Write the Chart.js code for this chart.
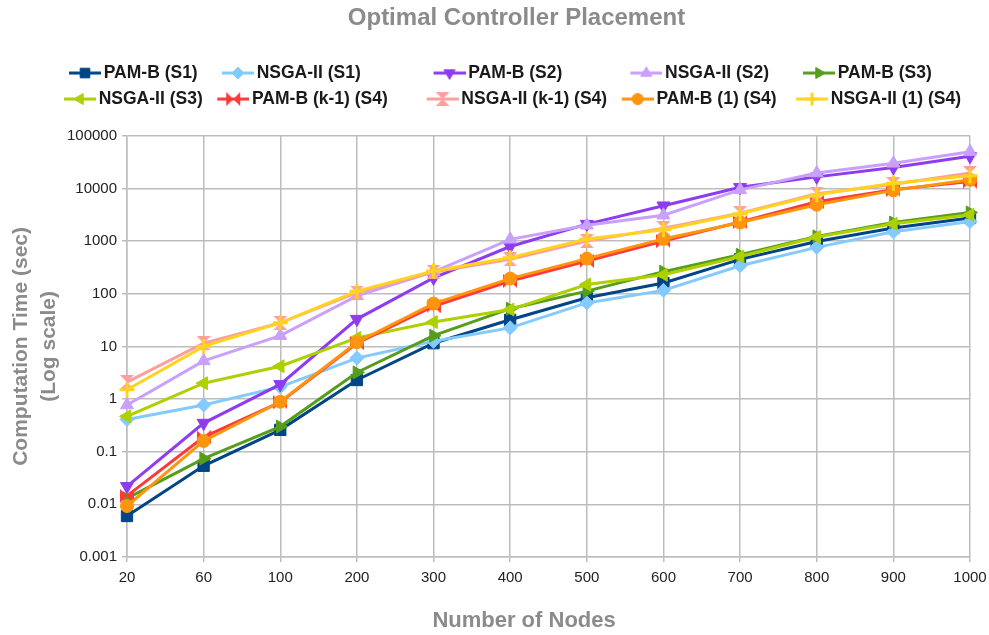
<!DOCTYPE html>
<html>
<head>
<meta charset="utf-8">
<title>Optimal Controller Placement</title>
<script src="https://cdn.jsdelivr.net/npm/chart.js@4.4.1/dist/chart.umd.min.js"></script>
<style>
  html, body { margin: 0; padding: 0; background: #ffffff; }
  canvas { display: block; }
</style>
</head>
<body>
<canvas id="chart" width="989" height="635"></canvas>
<script>
// Number of nodes (x categories)
const nodes = ['20', '60', '100', '200', '300', '400', '500', '600', '700', '800', '900', '1000'];

// Decade ticks on the log axis
const yTicks = [0.001, 0.01, 0.1, 1, 10, 100, 1000, 10000, 100000];

// Computation time in seconds
const pamS1      = [0.006, 0.054, 0.26, 2.3, 11.5, 32, 84, 160, 450, 980, 1770, 2750];
const nsgaS1     = [0.41, 0.77, 1.7, 6.0, 12.5, 22.5, 67, 116, 340, 760, 1500, 2350];
const pamS2      = [0.022, 0.35, 1.9, 33, 200, 790, 2100, 4700, 10500, 16600, 25000, 40700];
const nsgaS2     = [0.77, 5.3, 16, 91, 260, 1080, 2000, 3100, 9400, 19600, 30000, 50000];
const pamS3      = [0.013, 0.074, 0.30, 3.2, 16, 52, 112, 263, 550, 1230, 2250, 3500];
const nsgaS3     = [0.47, 2.0, 4.2, 14.5, 29, 50, 150, 230, 510, 1200, 2130, 3150];
const pamK1S4    = [0.0145, 0.19, 0.87, 11.5, 58, 175, 420, 1000, 2300, 5600, 9500, 13500];
const nsgaK1S4   = [2.1, 11.5, 28, 105, 260, 450, 1000, 1750, 3400, 7900, 12000, 19600];
const pamOneS4   = [0.0093, 0.16, 0.89, 12, 65, 194, 465, 1100, 2250, 4900, 9200, 14600];
const nsgaOneS4  = [1.5, 10, 28, 112, 270, 485, 1100, 1650, 3300, 7600, 12600, 17500];

const seriesNames = [
  'PAM-B (S1)', 'NSGA-II (S1)', 'PAM-B (S2)', 'NSGA-II (S2)', 'PAM-B (S3)',
  'NSGA-II (S3)', 'PAM-B (k-1) (S4)', 'NSGA-II (k-1) (S4)', 'PAM-B (1) (S4)', 'NSGA-II (1) (S4)'
];
const seriesData = [pamS1, nsgaS1, pamS2, nsgaS2, pamS3, nsgaS3, pamK1S4, nsgaK1S4, pamOneS4, nsgaOneS4];
const seriesColors = [
  '#004586', '#83caff', '#8e3bf2', '#c9a0fb', '#579d1c',
  '#aecf00', '#ff3838', '#ff9e9e', '#ff950e', '#ffd320'
];

const FONT = '"Liberation Sans", Arial, sans-serif';
const GRID = '#bdbdbd';
const LEGEND_SIZE = 17.5;
const LEGEND_GAP = 8.5;

// bow-tie marker (two triangles meeting in the middle)
function bowtie(color, vertical, size) {
  const c = document.createElement('canvas');
  c.width = c.height = size;
  const g = c.getContext('2d');
  const h = size / 2;
  g.fillStyle = color;
  g.beginPath();
  if (vertical) {
    g.moveTo(0, 0); g.lineTo(size, 0); g.lineTo(h, h); g.closePath();
    g.moveTo(0, size); g.lineTo(size, size); g.lineTo(h, h); g.closePath();
  } else {
    g.moveTo(0, 0); g.lineTo(0, size); g.lineTo(h, h); g.closePath();
    g.moveTo(size, 0); g.lineTo(size, size); g.lineTo(h, h); g.closePath();
  }
  g.fill();
  return c;
}

const markers = [
  { style: 'rect', rot: 0, bw: 1, r: 8 },
  { style: 'rectRot', rot: 0, bw: 1, r: 7 },
  { style: 'triangle', rot: 180, bw: 1, r: 7.5 },
  { style: 'triangle', rot: 0, bw: 1, r: 7.5 },
  { style: 'triangle', rot: 90, bw: 1, r: 7.5 },
  { style: 'triangle', rot: 270, bw: 1, r: 7.5 },
  { style: bowtie(seriesColors[6], false, 14), rot: 0, bw: 1, r: 7 },
  { style: bowtie(seriesColors[7], true, 14), rot: 0, bw: 1, r: 7 },
  { style: 'circle', rot: 0, bw: 1, r: 6.5 },
  { style: 'cross', rot: 0, bw: 3, r: 7.5 }
];

// legend icon: short line with the marker in the middle,
// drawn 6px right of centre so it sits closer to its text
const ICON_SHIFT = 6;
function legendIcon(i) {
  const c = document.createElement('canvas');
  c.width = 32 + 2 * ICON_SHIFT; c.height = 16;
  const g = c.getContext('2d');
  const x0 = 2 * ICON_SHIFT;
  g.strokeStyle = seriesColors[i];
  g.fillStyle = seriesColors[i];
  g.lineWidth = 3;
  g.beginPath();
  g.moveTo(x0, 8); g.lineTo(x0 + 32, 8);
  g.stroke();
  g.lineWidth = markers[i].bw;
  Chart.helpers.drawPoint(g, {
    pointStyle: markers[i].style, rotation: markers[i].rot,
    radius: markers[i].r * 0.85, borderWidth: markers[i].bw
  }, x0 + 16, 8);
  return c;
}

// legend entries are laid out in five columns, two rows
const legendCols = [154, 211, 197, 172, 168];
const measure = document.createElement('canvas').getContext('2d');
measure.font = 'bold ' + LEGEND_SIZE + 'px ' + FONT;
const spaceW = measure.measureText(' ').width;
const legendText = seriesNames.map((name, i) => {
  const natural = 32 + LEGEND_SIZE / 2 + measure.measureText(name).width;
  const extra = legendCols[i % 5] - LEGEND_GAP - natural;
  return name + ' '.repeat(Math.max(0, Math.round(extra / spaceW)));
});

const datasets = seriesNames.map((name, i) => ({
  label: name,
  data: seriesData[i],
  borderColor: seriesColors[i],
  backgroundColor: seriesColors[i],
  pointBackgroundColor: seriesColors[i],
  pointBorderColor: seriesColors[i],
  pointStyle: markers[i].style,
  pointRotation: markers[i].rot,
  pointBorderWidth: markers[i].bw,
  pointRadius: markers[i].r,
  pointHoverRadius: markers[i].r,
  borderWidth: 3,
  tension: 0,
  fill: false,
  order: seriesNames.length - i
}));

// extra room under the legend, and shift title + legend to the right a bit
const layoutTweaks = {
  id: 'layoutTweaks',
  beforeInit(chart) {
    const legend = chart.legend;
    const fit = legend.fit;
    legend.fit = function () {
      fit.call(this);
      this.height += 18;
    };
  },
  afterLayout(chart) {
    if (chart.titleBlock) { chart.titleBlock.left += 29; chart.titleBlock.right += 29; }
    if (chart.legend) { chart.legend.left += 22; chart.legend.right += 22; }
  }
};

new Chart(document.getElementById('chart'), {
  type: 'line',
  data: { labels: nodes, datasets },
  plugins: [layoutTweaks],
  options: {
    responsive: false,
    animation: false,
    events: [],
    layout: { padding: { left: 0, right: 14, top: 0, bottom: 0 } },
    plugins: {
      title: {
        display: true,
        text: 'Optimal Controller Placement',
        color: '#8b8b8b',
        font: { family: FONT, size: 24, weight: 'bold' },
        padding: { top: 4, bottom: 23 }
      },
      legend: {
        display: true,
        position: 'top',
        labels: {
          usePointStyle: true,
          pointStyleWidth: 32,
          padding: LEGEND_GAP,
          color: '#1a1a1a',
          font: { family: FONT, size: LEGEND_SIZE, weight: 'bold' },
          generateLabels: chart => chart.data.datasets.map((ds, i) => ({
            text: legendText[i],
            pointStyle: legendIcon(i),
            fillStyle: ds.borderColor,
            strokeStyle: ds.borderColor,
            lineWidth: 0,
            fontColor: '#1a1a1a',
            hidden: !chart.isDatasetVisible(i),
            datasetIndex: i
          }))
        }
      },
      tooltip: { enabled: false }
    },
    scales: {
      x: {
        type: 'category',
        offset: false,
        grid: { color: GRID, lineWidth: 1.5, tickLength: 5, drawTicks: true },
        border: { color: GRID, width: 1.5 },
        ticks: {
          color: '#222222',
          font: { family: FONT, size: 15 },
          padding: 7,
          maxRotation: 0,
          autoSkip: false
        },
        title: {
          display: true,
          text: 'Number of Nodes        ',
          color: '#8b8b8b',
          font: { family: FONT, size: 22, weight: 'bold' },
          padding: { top: 4, bottom: 1 }
        },
        afterFit(scale) {
          scale.height = 78;
          scale.paddingRight = 19;
        }
      },
      y: {
        type: 'logarithmic',
        min: 0.001,
        max: 100000,
        grid: { color: GRID, lineWidth: 1.5, tickLength: 5, drawTicks: true },
        border: { color: GRID, width: 1.5 },
        afterBuildTicks(scale) { scale.ticks = yTicks.map(v => ({ value: v })); },
        ticks: {
          color: '#222222',
          font: { family: FONT, size: 15 },
          padding: 5,
          autoSkip: false,
          callback: v => String(v)
        },
        title: {
          display: true,
          text: ['Computation Time (sec)', '(Log scale)'],
          color: '#8b8b8b',
          font: { family: FONT, size: 21, weight: 'bold', lineHeight: 1.3 },
          padding: { top: 8, bottom: 4 }
        },
        afterFit(scale) { scale.width = 127; }
      }
    }
  }
});
</script>
</body>
</html>
